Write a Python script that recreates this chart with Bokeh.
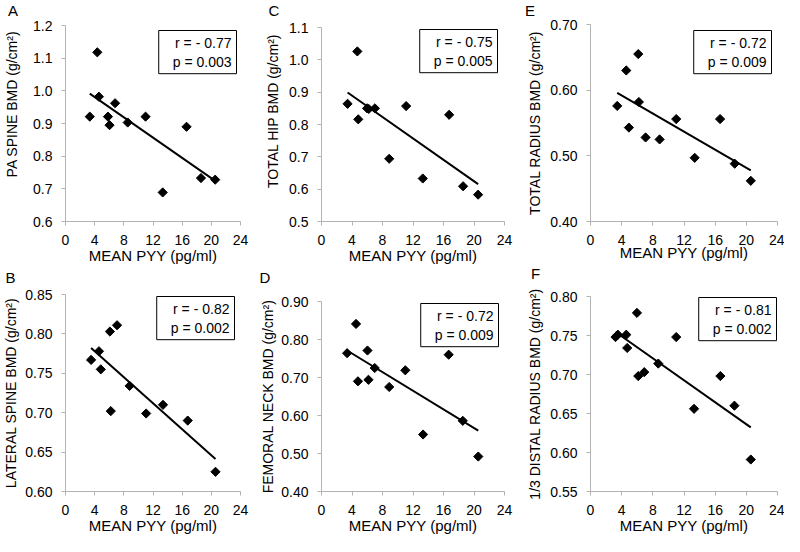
import numpy as np
from bokeh.plotting import figure
from bokeh.models import Range1d, FixedTicker, NumeralTickFormatter, Label, Title
from bokeh.layouts import column, row
from bokeh.embed import file_html
from bokeh.resources import INLINE

FONT = "Liberation Sans"
AXIS_GRAY = "#b3b3b3"
NB = "\u00a0"

x_ticks = [0, 4, 8, 12, 16, 20, 24]
x_title = "MEAN PYY (pg/ml)"

# A: PA spine
a_x = [3.33, 4.36, 4.58, 5.82, 6.04, 6.8, 8.53, 10.98, 13.33, 16.6, 18.58, 20.53]
a_y = [0.921, 1.118, 0.982, 0.921, 0.895, 0.962, 0.903, 0.921, 0.689, 0.890, 0.733, 0.728]
a_ticks = [0.6, 0.7, 0.8, 0.9, 1.0, 1.1, 1.2]
a_stats = ["r = - 0.77", "p = 0.003"]

# C: total hip
c_x = [3.42, 4.70, 4.82, 5.98, 6.2, 7.0, 8.88, 11.1, 13.28, 16.74, 18.57, 20.54]
c_y = [0.864, 1.026, 0.816, 0.850, 0.848, 0.850, 0.694, 0.857, 0.633, 0.830, 0.609, 0.583]
c_ticks = [0.5, 0.6, 0.7, 0.8, 0.9, 1.0, 1.1]
c_stats = ["r = - 0.75", "p = 0.005"]

# E: total radius
e_x = [3.43, 4.59, 4.93, 6.13, 6.21, 7.07, 8.87, 11.0, 13.37, 16.63, 18.51, 20.57]
e_y = [0.576, 0.630, 0.543, 0.655, 0.582, 0.528, 0.525, 0.556, 0.497, 0.556, 0.488, 0.462]
e_ticks = [0.40, 0.50, 0.60, 0.70]
e_stats = ["r = - 0.72", "p = 0.009"]

# B: lateral spine
b_x = [3.51, 4.59, 4.84, 6.09, 6.21, 7.07, 8.79, 11.06, 13.37, 16.76, 20.57]
b_y = [0.767, 0.778, 0.755, 0.803, 0.702, 0.811, 0.734, 0.699, 0.710, 0.690, 0.625]
b_ticks = [0.60, 0.65, 0.70, 0.75, 0.80, 0.85]
b_stats = ["r = - 0.82", "p = 0.002"]

# D: femoral neck
d_x = [3.36, 4.53, 4.78, 6.03, 6.16, 6.98, 8.88, 10.99, 13.32, 16.68, 18.53, 20.56]
d_y = [0.764, 0.841, 0.690, 0.771, 0.694, 0.725, 0.675, 0.719, 0.550, 0.760, 0.586, 0.492]
d_ticks = [0.40, 0.50, 0.60, 0.70, 0.80, 0.90]
d_stats = ["r = - 0.72", "p = 0.009"]

# F: 1/3 distal radius
f_x = [3.21, 3.51, 4.59, 4.71, 5.96, 6.13, 6.9, 8.7, 11.0, 13.29, 16.67, 18.47, 20.57]
f_y = [0.748, 0.751, 0.751, 0.734, 0.779, 0.698, 0.703, 0.714, 0.748, 0.656, 0.698, 0.660, 0.591]
f_ticks = [0.55, 0.60, 0.65, 0.70, 0.75, 0.80]
f_stats = ["r = - 0.81", "p = 0.002"]


def panel(letter, xs, ys, yticks, yfmt, ytitle, stats, w, h, bl, br, bt, bb,
          ystandoff, xstandoff, box_xy, letter_offset):
    p = figure(width=w, height=h, output_backend="svg", toolbar_location=None,
               x_range=Range1d(0, 24), y_range=Range1d(yticks[0], yticks[-1]),
               min_border_left=bl, min_border_right=br, min_border_top=bt,
               min_border_bottom=bb)
    p.outline_line_color = None
    p.grid.visible = False
    p.background_fill_color = "white"
    p.border_fill_color = "white"

    # panel letter: a two-line title whose block fills the top border, so the
    # letter sits near the top edge of the figure
    lh = (bt - 3) / 17.0 - 1.0
    p.title = Title(text=letter + "\n", align="left", vertical_align="top",
                    offset=letter_offset, standoff=0,
                    text_font=FONT, text_font_size="15px", text_line_height=lh,
                    text_font_style="normal", text_color="black")

    for ax in (p.xaxis[0], p.yaxis[0]):
        ax.axis_line_color = AXIS_GRAY
        ax.major_tick_line_color = AXIS_GRAY
        ax.minor_tick_line_color = None
        ax.major_tick_out = 4
        ax.major_tick_in = 0
        ax.major_label_standoff = 9
        ax.major_label_text_font = FONT
        ax.major_label_text_font_size = "14px"
        ax.major_label_text_color = "black"
        ax.axis_label_text_font = FONT
        ax.axis_label_text_font_style = "normal"
        ax.axis_label_text_color = "black"

    p.xaxis[0].ticker = FixedTicker(ticks=x_ticks)
    p.xaxis[0].axis_label = x_title
    p.xaxis[0].axis_label_text_font_size = "15px"
    p.xaxis[0].axis_label_standoff = xstandoff

    p.yaxis[0].ticker = FixedTicker(ticks=yticks)
    p.yaxis[0].formatter = NumeralTickFormatter(format=yfmt)
    p.yaxis[0].axis_label = ytitle
    p.yaxis[0].axis_label_text_font_size = "14px"
    p.yaxis[0].axis_label_standoff = ystandoff

    p.scatter(xs, ys, marker="square", angle=np.pi / 4, size=6.5,
              color="black")
    m, c = np.polyfit(xs, ys, 1)
    lx = np.array([min(xs), max(xs)])
    p.line(lx, m * lx + c, line_color="black", line_width=2)

    p.add_layout(Label(x=box_xy[0], y=box_xy[1], x_units="screen", y_units="screen",
                       text="\n".join(stats), text_align="right", text_baseline="top",
                       text_font=FONT, text_font_size="14px", text_color="black",
                       border_line_color="black", border_line_width=1,
                       background_fill_color="white",
                       padding=dict(left=14, right=5, top=4, bottom=4)))
    return p


# columns 1-2: top figures 267 tall (page y 8..275), bottom 269 (275..544)
# column 3: top 263 (8..271), bottom 273 (271..544)
pa = panel("A", a_x, a_y, a_ticks, "0.0", NB * 10 + "PA SPINE BMD (g/cm²)", a_stats,
           257, 267, 60, 17, 25, 46, 10, -1, (171, 191), -57.5)
pc = panel("C", c_x, c_y, c_ticks, "0.0", NB * 7 + "TOTAL HIP BMD (g/cm²)", c_stats,
           265, 267, 60, 18, 27, 46, 5, -1, (176, 192), -53)
pe = panel("E", e_x, e_y, e_ticks, "0.00", "TOTAL RADIUS BMD (g/cm²)", e_stats,
           262, 263, 68, 7, 24, 42, 4, -4, (181, 191), -65.5)
pb = panel("B", b_x, b_y, b_ticks, "0.00", "LATERAL SPINE BMD (g/cm²)", b_stats,
           257, 269, 60, 10, 27, 45, 3, -1, (169, 195), -60)
pd_ = panel("D", d_x, d_y, d_ticks, "0.00", "FEMORAL NECK BMD (g/cm²)", d_stats,
            265, 269, 62, 18, 34, 45, 2, -1, (177, 188), -62)
pf = panel("F", f_x, f_y, f_ticks, "0.00", "1/3 DISTAL RADIUS BMD (g/cm²)", f_stats,
           262, 273, 68, 7, 33, 45, 4, -1, (186, 194), -59.5)

layout = row(column(pa, pb), column(pc, pd_), column(pe, pf))
open("out.html", "w").write(file_html(layout, INLINE, "PYY vs BMD"))
